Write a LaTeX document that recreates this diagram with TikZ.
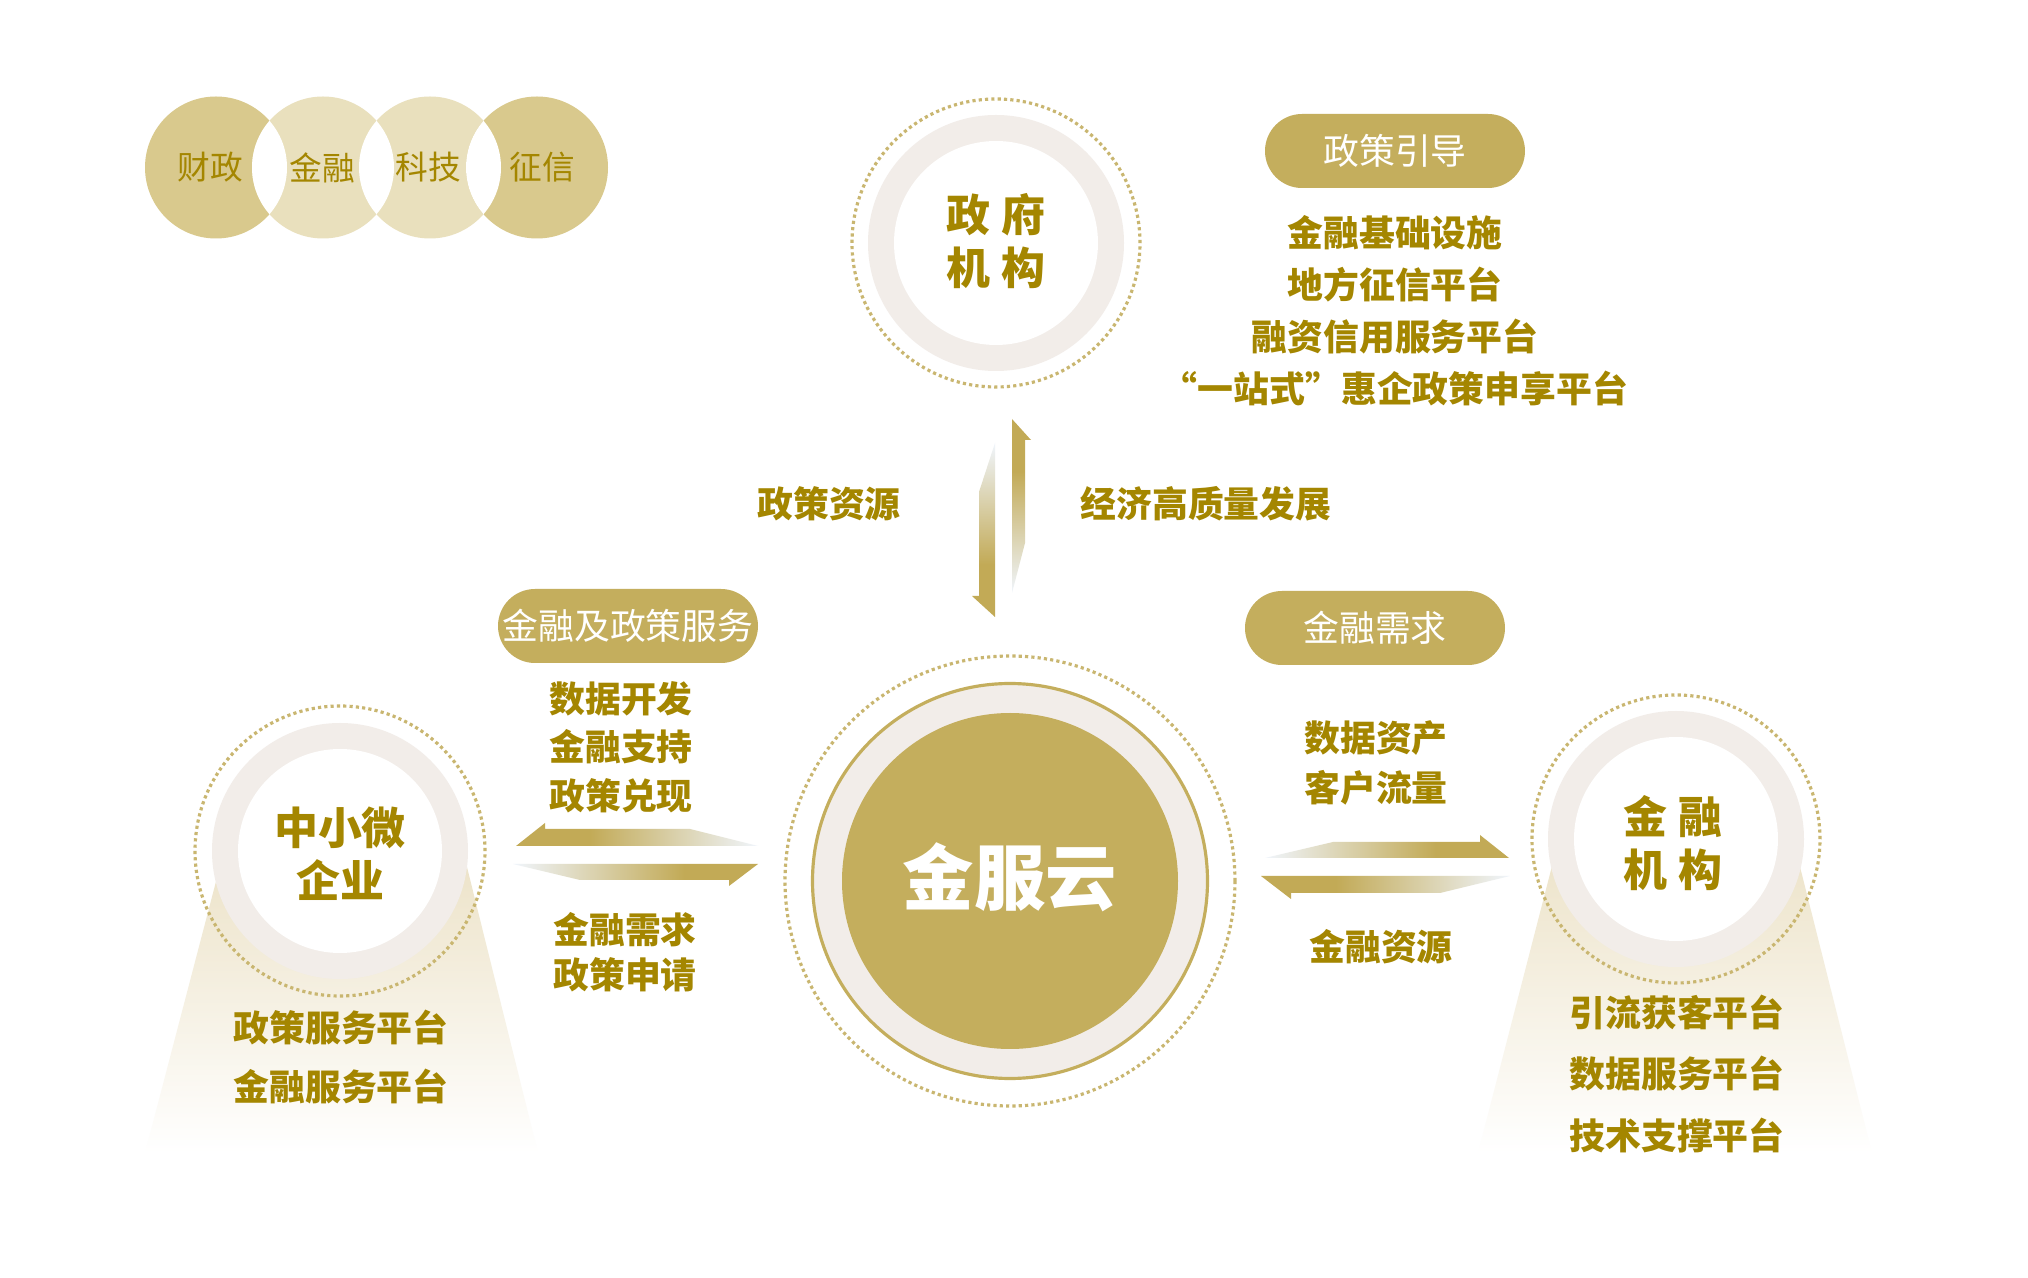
\documentclass[tikz,border=0pt]{standalone}
\usepackage{fontspec}
\newfontfamily\cjk{Noto Sans CJK SC}
\usetikzlibrary{calc}

\definecolor{textgold}{RGB}{164,134,0}
\definecolor{pillgold}{RGB}{196,174,93}
\definecolor{arrowgold}{RGB}{194,170,86}
\definecolor{paleblue}{RGB}{240,245,252}
\definecolor{ringgrey}{RGB}{242,237,233}
\definecolor{dotgold}{RGB}{201,182,112}
\definecolor{tandark}{RGB}{217,201,141}
\definecolor{tanlight}{RGB}{233,224,189}
\definecolor{tanfade}{RGB}{236,226,199}

\pgfdeclarehorizontalshading{goldfade}{100bp}{color(0bp)=(arrowgold); color(25bp)=(arrowgold); color(40bp)=(arrowgold); color(75bp)=(paleblue); color(100bp)=(paleblue)}

\tikzset{
	dotring/.style={draw=dotgold, line width=0.9pt, dash pattern=on 0.9pt off 0.9pt},
	lbl/.style={font=\cjk\bfseries\fontsize{10.2}{#1}\selectfont, text=textgold, align=center, inner sep=0pt},
	lbl/.default=14.8,
	ttl/.style={font=\cjk\bfseries\fontsize{12.5}{15.1}\selectfont, text=textgold, align=center, inner sep=0pt},
	pill/.style={fill=pillgold, rounded corners=0.37cm, minimum width=2.6cm, minimum height=0.74cm, inner sep=0pt, text=white, font=\cjk\fontsize{10.2}{12}\selectfont},
	disc/.style={font=\cjk\fontsize{9.3}{11}\selectfont, text=textgold, inner sep=0pt},
	halfarrow/.style={shading=goldfade, shading angle=#1},
}
\def\ringcircle(#1)(#2:#3:#4){\draw[dotring] (#1) circle (#2); \fill[ringgrey] (#1) circle (#3); \fill[white] (#1) circle (#4);}

\begin{document}
\begin{tikzpicture}
			%%%%% START %%%%%
			
			\fill[white] (0, 0) rectangle (20.28, 12.78);
			\useasboundingbox (0, 0) rectangle (20.28, 12.78);
			
			%%%%% four discs
			\fill[tandark] (2.16, 11.105) circle (0.71);
			\fill[tanlight] (3.23, 11.105) circle (0.71);
			\fill[tanlight] (4.30, 11.105) circle (0.71);
			\fill[tandark] (5.37, 11.105) circle (0.71);
			\begin{scope} \clip (2.16, 11.105) circle (0.71); \fill[white] (3.23, 11.105) circle (0.71); \end{scope}
			\begin{scope} \clip (3.23, 11.105) circle (0.71); \fill[white] (4.30, 11.105) circle (0.71); \end{scope}
			\begin{scope} \clip (4.30, 11.105) circle (0.71); \fill[white] (5.37, 11.105) circle (0.71); \end{scope}
			\node[disc] (caizheng) at (2.10, 11.105) {财政};
			\node[disc] (jinrong) at (3.22, 11.105) {金融};
			\node[disc] (keji) at (4.28, 11.105) {科技};
			\node[disc] (zhengxin) at (5.42, 11.105) {征信};
			
			%%%%% government
			\ringcircle(9.96, 10.35)(1.44:1.28:1.02)
			\node[ttl] (gov) at (9.96, 10.365) {政\hspace{0.25em}府\\机\hspace{0.25em}构};
			\node[pill] (guide) at (13.95, 11.27) {政策引导};
			\node[lbl] (govlist) at (13.95, 9.675) {金融基础设施\\地方征信平台\\融资信用服务平台\\“一站式”惠企政策申享平台};
			
			%%%%% vertical arrows
			\shade[halfarrow=-90] (10.12, 8.59) -- (10.31, 8.38) -- (10.25, 8.38) -- (10.25, 7.35) -- (10.12, 6.85) -- cycle;
			\shade[halfarrow=90] (9.95, 6.61) -- (9.72, 6.82) -- (9.79, 6.82) -- (9.79, 7.86) -- (9.95, 8.35) -- cycle;
			\node[lbl] (policyres) at (8.29, 7.74) {政策资源};
			\node[lbl] (growth) at (12.06, 7.74) {经济高质量发展};
			
			%%%%% centre
			\draw[dotring] (10.10, 3.97) circle (2.25);
			\draw[fill=ringgrey, draw=pillgold, line width=0.9pt] (10.10, 3.97) circle (1.975);
			\fill[pillgold] (10.10, 3.97) circle (1.68);
			\node[font=\cjk\bfseries\fontsize{20.3}{24}\selectfont, text=white, inner sep=0pt] (core) at (10.10, 4.01) {金服云};
			
			%%%%% small and micro firms
			\shade[top color=tanfade, bottom color=white] (2.24, 4.27) -- (4.63, 4.27) -- (5.38, 1.25) -- (1.45, 1.25) -- cycle;
			\ringcircle(3.40, 4.27)(1.45:1.28:1.02)
			\node[ttl] (sme) at (3.40, 4.245) {中小微\\企业};
			\node[lbl=17] (smeplat) at (3.41, 2.21) {政策服务平台\\金融服务平台};
			\node[pill] (service) at (6.28, 6.52) {金融及政策服务};
			\node[lbl=13.8] (smeout) at (6.21, 5.31) {数据开发\\金融支持\\政策兑现};
			\node[lbl=12.8] (smein) at (6.25, 3.255) {金融需求\\政策申请};
			\shade[halfarrow=0] (5.16, 4.32) -- (5.45, 4.55) -- (5.45, 4.49) -- (6.90, 4.49) -- (7.58, 4.32) -- cycle;
			\shade[halfarrow=180] (7.58, 4.14) -- (7.29, 3.92) -- (7.29, 3.98) -- (5.80, 3.98) -- (5.13, 4.14) -- cycle;
			
			%%%%% financial institutions
			\shade[top color=tanfade, bottom color=white] (15.59, 4.39) -- (17.93, 4.39) -- (18.72, 1.25) -- (14.78, 1.25) -- cycle;
			\ringcircle(16.76, 4.39)(1.44:1.28:1.02)
			\node[ttl] (bank) at (16.73, 4.345) {金\hspace{0.25em}融\\机\hspace{0.25em}构};
			\node[lbl=17.4] (bankplat) at (16.77, 2.04) {引流获客平台\\数据服务平台\\技术支撑平台};
			\node[pill] (demand) at (13.75, 6.50) {金融需求};
			\node[lbl=14.2] (bankin) at (13.76, 5.15) {数据资产\\客户流量};
			\node[lbl] (bankres) at (13.81, 3.31) {金融资源};
			\shade[halfarrow=180] (15.09, 4.20) -- (14.80, 4.43) -- (14.80, 4.36) -- (13.33, 4.36) -- (12.65, 4.20) -- cycle;
			\shade[halfarrow=0] (12.61, 4.02) -- (12.91, 3.79) -- (12.91, 3.85) -- (14.40, 3.85) -- (15.10, 4.02) -- cycle;
			
			%%%%% END %%%%%
\end{tikzpicture}
\end{document}
